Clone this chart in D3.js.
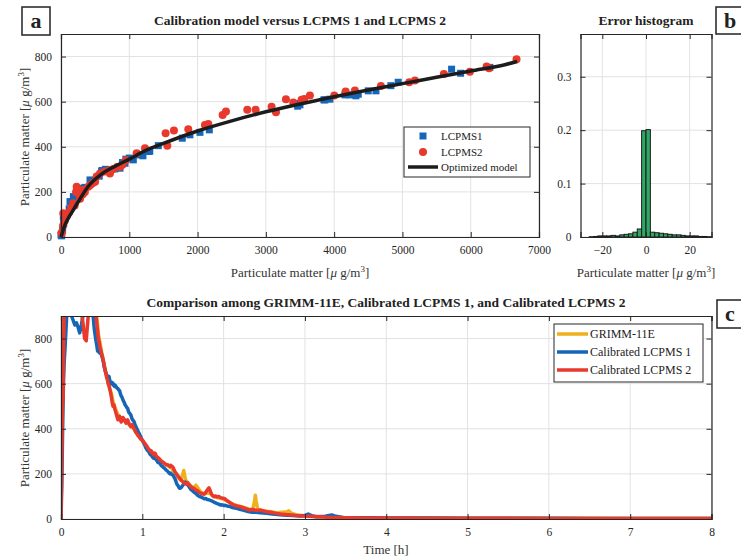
<!DOCTYPE html>
<html>
<head>
<meta charset="utf-8">
<script src="https://cdn.jsdelivr.net/npm/d3@7"></script>
<style>
  html, body { margin: 0; padding: 0; background: #fff; }
  svg { display: block; font-family: "Liberation Serif", "DejaVu Serif", serif; }
</style>
</head>
<body>
<svg id="chart" width="741" height="559"></svg>
<script>
// ---------------- DATA ----------------
// Panel a: calibration scatter (x = LCPMS raw, y = reference)
const lcpms1Points = [
  [0,9],[10,5],[24,31],[34,90],[40,60],[60,80],[90,100],[120,125],[132,157],[160,140],[181,179],[200,160],
  [230,190],[260,210],[303,216],[350,220],[425,253],[450,240],[560,270],[596,290],[600,295],[650,300],[669,297],
  [720,295],[791,302],[864,305],[900,330],[937,327],[950,345],[1000,350],[1059,342],[1157,364],[1200,360],
  [1279,379],[1300,380],[1425,405],[1776,438],[1888,453],[2035,464],[2172,475],[3440,592],[3465,580],[3499,586],
  [3850,608],[3865,608],[3938,611],[4158,630],[4231,630],[4319,626],[4353,633],[4499,648],[4612,648],[4831,671],
  [4938,686],[5720,744],[5852,726],[6280,752]
];
const lcpms2Points = [
  [10,16],[10,20],[30,50],[34,105],[50,70],[80,90],[120,110],[150,130],[180,150],[200,140],[220,200],[229,223],
  [250,210],[278,179],[280,170],[320,190],[327,208],[350,200],[400,223],[430,230],[470,240],[500,245],[522,268],
  [571,282],[640,290],[700,295],[717,282],[760,300],[820,310],[864,312],[900,320],[950,340],[1108,371],[1230,393],
  [1532,460],[1557,405],[1654,472],[1864,478],[2108,497],[2157,501],[2367,541],[2416,556],[2728,564],[2850,564],
  [3084,578],[3148,553],[3294,611],[3401,596],[3523,608],[3562,612],[3645,627],[4002,627],[4168,645],[4304,649],
  [4685,670],[5099,686],[5183,694],[5607,723],[5988,733],[6232,756],[6270,748],[6671,788]
];
const modelX = [0,25,60,100,160,250,400,600,800,1000,1250,1500,2000,2500,3000,3500,4000,4500,5000,5500,6000,6500,6680];
const modelY = [0,25,55,80,110,155,225,280,315,345,385,415,470,515,555,590,622,652,680,708,736,764,778];

// Panel b: error histogram
const binEdges = [-26,-24,-22,-20,-18,-16,-14,-12,-10,-8,-6,-4,-2,0,2,4,6,8,10,12,14,16,18,20,22,24,26,28,30];
const binProb  = [0.0005,0.001,0.002,0.002,0.002,0.003,0.002,0.004,0.005,0.006,0.009,0.015,0.199,0.201,
                  0.009,0.008,0.007,0.006,0.005,0.004,0.004,0.003,0.002,0.002,0.002,0.001,0.001,0.0005];

// Panel c: time series [time h, PM]
const grimmSeries = [
  [0,0],[0.01,350],[0.02,600],[0.03,800],[0.04,950],[0.08,1050],[0.2,1000],[0.3,950],[0.4,960],[0.44,900],[0.46,820],
  [0.48,780],[0.5,740],[0.52,705],[0.54,670],[0.56,635],[0.58,605],[0.6,580],[0.62,555],[0.64,520],[0.66,500],[0.68,480],
  [0.7,462],[0.72,455],[0.74,445],[0.76,440],[0.78,435],[0.8,430],[0.82,425],[0.84,418],[0.86,410],[0.88,405],[0.9,398],
  [0.92,385],[0.94,375],[0.96,365],[0.98,355],[1.0,348],[1.04,328],[1.08,308],[1.12,292],[1.16,282],[1.2,268],[1.24,255],
  [1.28,243],[1.32,235],[1.36,225],[1.4,205],[1.44,185],[1.47,172],[1.49,190],[1.51,215],[1.53,175],[1.56,160],[1.6,145],
  [1.64,138],[1.66,150],[1.68,140],[1.72,118],[1.76,112],[1.8,115],[1.84,112],[1.88,98],[1.92,95],[1.96,92],[2.0,88],
  [2.04,80],[2.08,72],[2.12,65],[2.16,60],[2.2,56],[2.24,52],[2.28,48],[2.32,42],[2.36,45],[2.38,80],[2.39,105],[2.4,80],
  [2.42,40],[2.5,36],[2.58,32],[2.65,28],[2.72,30],[2.78,32],[2.8,36],[2.83,26],[2.9,18],[3.0,14],[3.1,11],[3.2,9],
  [3.35,7],[3.5,6],[3.8,5],[4.0,4],[4.5,4],[5.0,3],[5.5,3],[6.0,3],[6.5,3],[7.0,2],[7.5,2],[8.0,2]
];
const lcpms1Series = [
  [0,0],[0.01,150],[0.02,400],[0.03,600],[0.04,700],[0.05,760],[0.06,830],[0.07,900],[0.09,920],[0.11,950],[0.13,900],
  [0.15,880],[0.17,860],[0.19,870],[0.21,850],[0.23,825],[0.25,860],[0.27,900],[0.3,950],[0.34,1000],[0.38,960],[0.4,880],
  [0.41,840],[0.43,790],[0.44,770],[0.45,745],[0.46,755],[0.47,738],[0.48,735],[0.49,742],[0.5,725],[0.51,712],[0.52,700],
  [0.53,676],[0.54,665],[0.55,648],[0.56,640],[0.57,630],[0.58,625],[0.59,632],[0.6,615],[0.61,606],[0.62,600],[0.63,605],
  [0.64,594],[0.65,598],[0.66,588],[0.67,592],[0.68,585],[0.69,580],[0.7,578],[0.71,572],[0.72,570],[0.73,556],[0.74,545],
  [0.75,540],[0.76,530],[0.77,522],[0.78,515],[0.79,505],[0.8,500],[0.81,494],[0.82,490],[0.83,476],[0.84,470],[0.85,466],
  [0.86,460],[0.87,448],[0.88,440],[0.89,436],[0.9,430],[0.91,418],[0.92,410],[0.93,402],[0.94,395],[0.95,386],[0.96,380],
  [0.97,372],[0.98,365],[0.99,356],[1.0,350],[1.02,335],[1.03,328],[1.04,318],[1.05,312],[1.06,305],[1.07,302],[1.08,298],
  [1.09,290],[1.1,285],[1.11,283],[1.12,278],[1.13,272],[1.14,270],[1.15,274],[1.16,268],[1.17,262],[1.18,260],[1.19,252],
  [1.2,250],[1.21,248],[1.22,245],[1.23,238],[1.24,235],[1.25,232],[1.26,228],[1.27,226],[1.28,222],[1.29,218],[1.3,215],
  [1.31,212],[1.32,208],[1.33,204],[1.34,200],[1.35,203],[1.36,198],[1.37,196],[1.38,193],[1.39,186],[1.4,180],[1.41,170],
  [1.42,160],[1.43,152],[1.44,148],[1.45,140],[1.46,136],[1.47,138],[1.48,140],[1.49,146],[1.5,150],[1.51,156],[1.52,160],
  [1.53,164],[1.54,158],[1.55,154],[1.56,150],[1.57,146],[1.58,140],[1.59,135],[1.6,130],[1.61,128],[1.62,125],[1.63,121],
  [1.64,118],[1.65,116],[1.66,112],[1.67,109],[1.68,105],[1.69,103],[1.7,100],[1.72,98],[1.74,94],[1.76,90],[1.78,91],
  [1.8,86],[1.82,85],[1.84,82],[1.86,79],[1.88,75],[1.9,72],[1.92,68],[1.94,66],[1.96,62],[1.98,63],[2.0,60],[2.02,61],
  [2.04,58],[2.06,57],[2.08,55],[2.1,52],[2.12,50],[2.14,49],[2.16,47],[2.18,45],[2.2,43],[2.25,38],[2.3,33],[2.35,30],
  [2.4,30],[2.45,28],[2.53,25],[2.6,22],[2.73,18],[2.85,15],[2.94,13],[3.0,16],[3.04,22],[3.08,15],[3.14,10],[3.25,12],
  [3.33,18],[3.38,12],[3.47,7],[3.6,6],[3.8,5],[4.0,4],[4.5,4],[5.0,3],[5.5,3],[6.0,3],[6.5,2],[7.0,2],[7.5,2],[8.0,2]
];
const lcpms2Series = [
  [0,0],[0.01,300],[0.02,540],[0.025,520],[0.03,700],[0.04,960],[0.06,1000],[0.1,1050],[0.15,1020],[0.2,980],[0.24,950],
  [0.27,870],[0.29,800],[0.31,790],[0.33,880],[0.35,960],[0.38,1000],[0.42,930],[0.44,870],[0.46,800],[0.47,785],[0.48,760],
  [0.49,748],[0.5,730],[0.51,720],[0.52,700],[0.53,684],[0.54,660],[0.55,650],[0.56,630],[0.57,618],[0.58,600],[0.59,590],
  [0.6,575],[0.61,560],[0.62,540],[0.63,515],[0.64,500],[0.65,506],[0.66,490],[0.67,478],[0.68,465],[0.69,452],[0.7,440],
  [0.71,448],[0.72,455],[0.73,442],[0.74,430],[0.75,438],[0.76,450],[0.77,446],[0.78,440],[0.79,432],[0.8,425],[0.81,432],
  [0.82,440],[0.83,430],[0.84,420],[0.85,414],[0.86,410],[0.87,418],[0.88,415],[0.89,406],[0.9,400],[0.91,392],[0.92,385],
  [0.93,380],[0.94,375],[0.95,369],[0.96,365],[0.97,360],[0.98,355],[0.99,352],[1.0,350],[1.01,346],[1.02,340],[1.03,336],
  [1.04,330],[1.05,326],[1.06,320],[1.07,314],[1.08,310],[1.09,304],[1.1,300],[1.11,302],[1.12,295],[1.13,288],[1.14,285],
  [1.15,292],[1.16,290],[1.17,280],[1.18,275],[1.19,272],[1.2,270],[1.21,266],[1.22,262],[1.23,258],[1.24,255],[1.25,253],
  [1.26,250],[1.27,247],[1.28,245],[1.29,242],[1.3,240],[1.31,241],[1.32,238],[1.33,236],[1.34,232],[1.35,238],[1.36,235],
  [1.37,232],[1.38,228],[1.39,218],[1.4,210],[1.41,205],[1.42,200],[1.43,195],[1.44,190],[1.45,185],[1.46,180],[1.47,176],
  [1.48,172],[1.49,168],[1.5,165],[1.51,160],[1.52,158],[1.53,156],[1.54,155],[1.55,158],[1.56,160],[1.57,154],[1.58,150],
  [1.59,146],[1.6,143],[1.61,140],[1.62,138],[1.63,137],[1.64,135],[1.65,131],[1.66,128],[1.67,127],[1.68,125],[1.69,121],
  [1.7,118],[1.71,116],[1.72,114],[1.73,113],[1.74,112],[1.75,111],[1.76,110],[1.77,113],[1.78,118],[1.79,124],[1.8,128],
  [1.81,134],[1.82,138],[1.83,130],[1.84,120],[1.85,112],[1.86,105],[1.87,102],[1.88,100],[1.9,102],[1.92,98],[1.94,100],
  [1.96,95],[1.98,93],[2.0,92],[2.02,88],[2.04,82],[2.06,77],[2.08,72],[2.1,68],[2.12,62],[2.14,60],[2.16,58],[2.18,56],
  [2.2,55],[2.24,50],[2.28,45],[2.32,40],[2.36,42],[2.4,38],[2.45,40],[2.5,35],[2.53,32],[2.58,30],[2.65,25],[2.7,22],
  [2.76,20],[2.82,18],[2.9,15],[2.98,13],[3.05,12],[3.18,10],[3.27,8],[3.35,7],[3.5,6],[3.76,4],[4.0,4],[4.5,3],[5.0,3],
  [5.5,3],[6.0,2],[6.5,2],[7.0,2],[7.5,2],[8.0,2]
];

// Ticks
const aXTicks = [0,1000,2000,3000,4000,5000,6000,7000];
const aYTicks = [0,200,400,600,800];
const bXTicks = [-20,0,20];
const bYTicks = [0,0.1,0.2,0.3];
const cXTicks = [0,1,2,3,4,5,6,7,8];
const cYTicks = [0,200,400,600,800];

// ---------------- DRAW ----------------
const svg = d3.select("#chart");
const AX = "#262626", GRID = "#e2e2e2";
const BLUE = "#1666b8", RED = "#e8392c", ORANGE = "#edb120", GREEN = "#2fa866";

function frame(g, x, y, xt, yt, xfmt, yfmt) {
  const [x0, x1] = x.range(), [y0, y1] = y.range();
  const grid = g.append("g");
  xt.forEach(t => grid.append("line").attr("x1", x(t)).attr("x2", x(t)).attr("y1", y0).attr("y2", y1)
    .attr("stroke", GRID).attr("stroke-width", 1));
  yt.forEach(t => grid.append("line").attr("y1", y(t)).attr("y2", y(t)).attr("x1", x0).attr("x2", x1)
    .attr("stroke", GRID).attr("stroke-width", 1));
  return () => {
    const top = g.append("g");
    const bx = top.append("g").attr("transform", `translate(0,${y0})`)
      .call(d3.axisBottom(x).tickValues(xt).tickSize(-5).tickPadding(9).tickFormat(xfmt));
    const tx = top.append("g").attr("transform", `translate(0,${y1})`)
      .call(d3.axisTop(x).tickValues(xt).tickSize(-5).tickFormat(""));
    const ly = top.append("g").attr("transform", `translate(${x0},0)`)
      .call(d3.axisLeft(y).tickValues(yt).tickSize(-5).tickPadding(9).tickFormat(yfmt));
    const ry = top.append("g").attr("transform", `translate(${x1},0)`)
      .call(d3.axisRight(y).tickValues(yt).tickSize(-5).tickFormat(""));
    [bx, tx, ly, ry].forEach(a => {
      a.select(".domain").attr("stroke", AX).attr("stroke-width", 1.2);
      a.selectAll(".tick line").attr("stroke", AX).attr("stroke-width", 1);
      a.selectAll("text").attr("fill", AX).style("font-family", "Liberation Serif, serif").style("font-size", "11.5px");
    });
  };
}

function pmLabel(sel) {
  sel.append("tspan").text("Particulate matter [");
  sel.append("tspan").attr("font-style", "italic").text("μ");
  sel.append("tspan").text(" g/m");
  sel.append("tspan").attr("dy", -5).attr("font-size", "9px").text("3");
  sel.append("tspan").attr("dy", 5).text("]");
}

function letterBox(x, y, w, h, letter, lx, ly) {
  svg.append("rect").attr("x", x).attr("y", y).attr("width", w).attr("height", h)
    .attr("fill", "#fff").attr("stroke", "#222").attr("stroke-width", 1.5);
  svg.append("text").attr("x", lx).attr("y", ly).attr("text-anchor", "middle")
    .attr("font-weight", "bold").attr("font-size", "22px").attr("fill", "#222").text(letter);
}

// ===== Panel a =====
{
  const x = d3.scaleLinear().domain([0, 7000]).range([61, 539]);
  const y = d3.scaleLinear().domain([0, 900]).range([237, 34]);
  const g = svg.append("g");
  const finish = frame(g, x, y, aXTicks, aYTicks, d3.format("d"), d3.format("d"));
  const marks = g.append("g");
  marks.selectAll("rect.sq").data(lcpms1Points).enter().append("rect")
    .attr("x", d => x(d[0]) - 3.5).attr("y", d => y(d[1]) - 3.5).attr("width", 7).attr("height", 7)
    .attr("fill", BLUE);
  marks.selectAll("circle.pt").data(lcpms2Points).enter().append("circle")
    .attr("cx", d => x(d[0])).attr("cy", d => y(d[1])).attr("r", 4).attr("fill", RED);
  const mline = d3.line().x(d => x(d[0])).y(d => y(d[1])).curve(d3.curveMonotoneX);
  marks.append("path").datum(modelX.map((v, i) => [v, modelY[i]])).attr("d", mline)
    .attr("fill", "none").attr("stroke", "#1c1c1c").attr("stroke-width", 3.5);
  finish();
  svg.append("text").attr("x", 300).attr("y", 25).attr("text-anchor", "middle").attr("font-weight", "bold")
    .attr("font-size", "13.5px").attr("fill", "#222").text("Calibration model versus LCPMS 1 and LCPMS 2");
  svg.append("text").attr("x", 300).attr("y", 277).attr("text-anchor", "middle").attr("font-size", "13px")
    .attr("fill", "#333").call(pmLabel);
  svg.append("text").attr("transform", "translate(29,137) rotate(-90)").attr("text-anchor", "middle")
    .attr("font-size", "13px").attr("fill", "#333").call(pmLabel);
  const lg = svg.append("g");
  lg.append("rect").attr("x", 404).attr("y", 127).attr("width", 126).attr("height", 50)
    .attr("fill", "#fff").attr("stroke", AX).attr("stroke-width", 1);
  lg.append("rect").attr("x", 419.5).attr("y", 132.5).attr("width", 7).attr("height", 7).attr("fill", BLUE);
  lg.append("circle").attr("cx", 423).attr("cy", 152).attr("r", 4).attr("fill", RED);
  lg.append("line").attr("x1", 408).attr("x2", 438).attr("y1", 167).attr("y2", 167)
    .attr("stroke", "#1c1c1c").attr("stroke-width", 3.5);
  [["LCPMS1", 140], ["LCPMS2", 156], ["Optimized model", 171]].forEach(([t, yy]) =>
    lg.append("text").attr("x", 441).attr("y", yy).attr("font-size", "11px").attr("fill", "#222").text(t));
}

// ===== Panel b =====
{
  const x = d3.scaleLinear().domain([-30, 30]).range([580.5, 711.5]);
  const y = d3.scaleLinear().domain([0, 0.38]).range([237, 34]);
  const g = svg.append("g");
  const finish = frame(g, x, y, bXTicks, bYTicks, d3.format("d"), d => d === 0 ? "0" : d3.format(".1f")(d));
  g.selectAll("rect.bar").data(binProb).enter().append("rect")
    .attr("x", (d, i) => x(binEdges[i])).attr("width", (d, i) => x(binEdges[i + 1]) - x(binEdges[i]))
    .attr("y", d => y(d)).attr("height", d => y(0) - y(d))
    .attr("fill", GREEN).attr("stroke", "#1a1a1a").attr("stroke-width", 1);
  finish();
  svg.append("text").attr("x", 646).attr("y", 25).attr("text-anchor", "middle").attr("font-weight", "bold")
    .attr("font-size", "13.5px").attr("fill", "#222").text("Error histogram");
  svg.append("text").attr("x", 646).attr("y", 277).attr("text-anchor", "middle").attr("font-size", "13px")
    .attr("fill", "#333").call(pmLabel);
}

// ===== Panel c =====
{
  const x = d3.scaleLinear().domain([0, 8]).range([61, 711.5]);
  const y = d3.scaleLinear().domain([0, 900]).range([519, 316]);
  const g = svg.append("g");
  const finish = frame(g, x, y, cXTicks, cYTicks, d3.format("d"), d3.format("d"));
  svg.append("clipPath").attr("id", "clipc").append("rect").attr("x", 61).attr("y", 316)
    .attr("width", 650.5).attr("height", 203);
  const lines = g.append("g").attr("clip-path", "url(#clipc)");
  const ln = d3.line().x(d => x(d[0])).y(d => y(d[1]));
  [[grimmSeries, ORANGE], [lcpms1Series, BLUE], [lcpms2Series, RED]].forEach(([s, c]) =>
    lines.append("path").datum(s).attr("d", ln).attr("fill", "none").attr("stroke", c)
      .attr("stroke-width", 3.5).attr("stroke-linejoin", "round"));
  finish();
  svg.append("text").attr("x", 386).attr("y", 307).attr("text-anchor", "middle").attr("font-weight", "bold")
    .attr("font-size", "13.5px").attr("fill", "#222")
    .text("Comparison among GRIMM-11E, Calibrated LCPMS 1, and Calibrated LCPMS 2");
  svg.append("text").attr("x", 386).attr("y", 554).attr("text-anchor", "middle").attr("font-size", "13px")
    .attr("fill", "#333").text("Time [h]");
  svg.append("text").attr("transform", "translate(29,418) rotate(-90)").attr("text-anchor", "middle")
    .attr("font-size", "13px").attr("fill", "#333").call(pmLabel);
  const lg = svg.append("g");
  lg.append("rect").attr("x", 554).attr("y", 324).attr("width", 149).attr("height", 58)
    .attr("fill", "#fff").attr("stroke", AX).attr("stroke-width", 1);
  [["GRIMM-11E", ORANGE, 334], ["Calibrated LCPMS 1", BLUE, 352], ["Calibrated LCPMS 2", RED, 370]].forEach(([t, c, yy]) => {
    lg.append("line").attr("x1", 557).attr("x2", 588).attr("y1", yy).attr("y2", yy).attr("stroke", c).attr("stroke-width", 3.5);
    lg.append("text").attr("x", 590).attr("y", yy + 4).attr("font-size", "12px").attr("fill", "#222").text(t);
  });
}

// panel letters
letterBox(22, 7, 28, 28, "a", 36, 28);
letterBox(716, 7, 28, 27, "b", 730, 28);
letterBox(717, 300, 28, 28, "c", 730, 321);
</script>
</body>
</html>
